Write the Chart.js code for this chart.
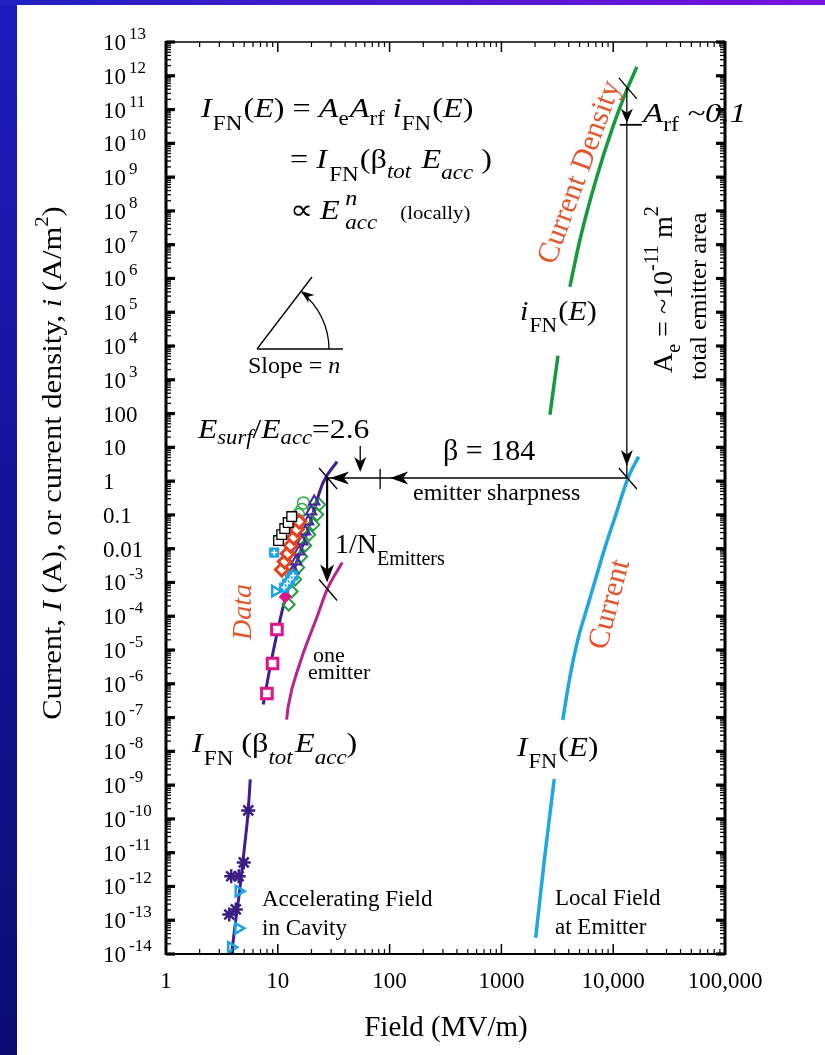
<!DOCTYPE html>
<html><head><meta charset="utf-8">
<script src="https://cdn.jsdelivr.net/npm/chart.js@4.4.1/dist/chart.umd.min.js"></script>
<style>html,body{margin:0;padding:0;background:#fff;overflow:hidden}canvas{display:block}</style>
</head><body>
<canvas id="c" width="825" height="1055"></canvas>
<script>
// ---------------- DATA ----------------
const xTickValues = [1, 10, 100, 1000, 10000, 100000];
const xTickLabels = ['1', '10', '100', '1000', '10,000', '100,000'];
const yTickValues = [1e13,1e12,1e11,1e10,1e9,1e8,1e7,1e6,1e5,1e4,1e3,100,10,1,0.1,0.01,1e-3,1e-4,1e-5,1e-6,1e-7,1e-8,1e-9,1e-10,1e-11,1e-12,1e-13,1e-14];
const yTickLabels = ['10^13','10^12','10^11','10^10','10^9','10^8','10^7','10^6','10^5','10^4','10^3','100','10','1','0.1','0.01','10^-3','10^-4','10^-5','10^-6','10^-7','10^-8','10^-9','10^-10','10^-11','10^-12','10^-13','10^-14'];

// I_FN(beta_tot E_acc) fit curve (field MV/m, current A)
const fitLowE  = [3.87, 4.16, 4.57, 5.01, 5.44, 5.67];
const fitLowI  = [1.05e-14, 7.6e-14, 8.1e-13, 1.26e-11, 1.78e-10, 1.48e-9];
const fitHighE = [7.41, 8.55, 9.88, 11.17, 13.72, 18.3, 25.4, 33.9];
const fitHighI = [2.44e-7, 3.25e-6, 3.3e-5, 1.94e-4, 1.96e-3, 0.0299, 0.904, 3.78];
// one emitter
const oneE = [12.0, 12.39, 15.85, 22.5, 27.6, 37.7];
const oneI = [8.7e-8, 2.13e-7, 4.27e-6, 9.8e-5, 6.17e-4, 3.88e-3];
// current density i_FN(E)
const densLowE  = [2718, 3205];
const densLowI  = [92.7, 5160];
const densHighE = [4100, 5040, 7140, 9930, 13250, 16280];
const densHighI = [5.68e5, 1.4e7, 1.02e9, 3.08e10, 3.83e11, 1.83e12];
// current I_FN(E) at local field
const curLowE  = [2027, 2411, 2970];
const curLowI  = [3.03e-14, 5.4e-12, 1.51e-9];
const curHighE = [3540, 4060, 4840, 5750, 6850, 8430, 10370, 13700, 16900];
const curHighI = [8.5e-8, 1.34e-6, 2.11e-5, 1.5e-4, 1.06e-3, 0.0106, 0.0843, 1.33, 5.31];

// measured data
const blackSqE = [10.15, 10.83, 11.53, 12.39, 13.31];
const blackSqI = [0.0174, 0.0261, 0.0394, 0.0592, 0.0891];
const greenCircE = [15.31, 16.42, 16.98];
const greenCircI = [0.102, 0.1435, 0.2265];
const greenDiaE = [12.51, 13.31, 14.3, 15.21, 16.18, 17.57, 19.09, 20.75, 22.5, 23.44];
const greenDiaI = [2.22e-4, 5.38e-4, 1.22e-3, 2.76e-3, 5.83e-3, 0.01236, 0.0261, 0.0516, 0.102, 0.2018];
const redDiaE = [10.88, 11.53, 12.25, 13.04, 13.87, 14.75, 15.54];
const redDiaI = [2.41e-3, 4.15e-3, 7.16e-3, 0.01236, 0.0213, 0.0367, 0.0634];
const purpleTriE = [13.81, 14.59, 15.54, 16.52, 17.57, 18.7, 19.88, 21.15];
const purpleTriI = [2.25e-3, 4.15e-3, 8.2e-3, 0.0162, 0.0321, 0.0634, 0.1253, 0.247];
const cyanSqE = [9.29, 11.41, 12.13, 12.91, 13.72];
const cyanSqI = [7.67e-3, 7.06e-4, 9.27e-4, 1.22e-3, 1.6e-3];
const cyanTriE = [9.48, 4.47, 4.43, 3.83];
const cyanTriI = [5.5e-4, 7.24e-13, 5.75e-14, 1.58e-14];
const magDiaE = [11.65];
const magDiaI = [3.75e-4];
const magSqE = [9.82, 8.97, 7.99];
const magSqI = [4.05e-5, 3.99e-6, 5.16e-7];
const starE = [5.44, 4.96, 4.47, 3.83, 4.21, 3.68];
const starI = [1.78e-10, 5.13e-12, 2.0e-12, 2.0e-12, 2.09e-13, 1.48e-13];

// annotation anchors (data space)
const betaLevel = 1.24;            // current level of beta arrow
const accCrossE = 27.6;            // E_acc at crossing
const locCrossE = 13240;           // local field at crossing
const densCrossI = 4.4e11;         // current density at crossing
const oneCrossI = 6.2e-4;          // one-emitter crossing
const surfTickE = 82.3;            // E_surf marker
const surfArrowE = 54.6;

// ---------------- HELPERS ----------------
const FONT = '"Liberation Serif","Times New Roman",serif';
const ORANGE = '#e4552c';
function fnt(s, it){ return (it ? 'italic ' : '') + s + 'px ' + FONT; }
function pts(xs, ys){ return xs.map((x, i) => ({x: x, y: ys[i]})); }
function rich(ctx, x, y, segs, o){
  o = o || {};
  ctx.save(); ctx.translate(x, y); if (o.rot) ctx.rotate(o.rot); if (o.sx) ctx.scale(o.sx, 1);
  ctx.fillStyle = o.color || '#000'; ctx.textBaseline = 'alphabetic'; ctx.textAlign = 'left';
  const base = o.size || 28; const ws = []; let total = 0;
  segs.forEach(sg => { ctx.font = fnt(sg.s || base, sg.i); const w = ctx.measureText(sg.t).width; ws.push(w); total += (sg.dx || 0) + (sg.nox ? 0 : w); });
  let cx = o.align === 'center' ? -total / 2 : (o.align === 'right' ? -total : 0);
  segs.forEach((sg, k) => { cx += sg.dx || 0; ctx.font = fnt(sg.s || base, sg.i); ctx.fillText(sg.t, cx, (sg.dy || 0) + (o.dy || 0)); if (!sg.nox) cx += ws[k]; });
  ctx.restore();
}
function head(ctx, tx, ty, ang, len, hw){
  const c = Math.cos(ang), s = Math.sin(ang);
  ctx.beginPath(); ctx.moveTo(tx, ty);
  ctx.lineTo(tx - len * c - hw * s, ty - len * s + hw * c);
  ctx.lineTo(tx - 0.72 * len * c, ty - 0.72 * len * s);
  ctx.lineTo(tx - len * c + hw * s, ty - len * s - hw * c);
  ctx.closePath(); ctx.fill();
}
function seg(ctx, x1, y1, x2, y2, w){ ctx.lineWidth = w; ctx.beginPath(); ctx.moveTo(x1, y1); ctx.lineTo(x2, y2); ctx.stroke(); }

// ---------------- PLUGINS ----------------
const bgPlugin = { id: 'bg', beforeDraw(c){
  const ctx = c.ctx; ctx.save();
  const g = ctx.createLinearGradient(0, 0, 0, 1055); g.addColorStop(0, '#1c1cbc'); g.addColorStop(1, '#0b0b72');
  ctx.fillStyle = g; ctx.fillRect(0, 0, 17, 1055);
  const g2 = ctx.createLinearGradient(0, 0, 825, 0); g2.addColorStop(0, '#2020c2'); g2.addColorStop(1, '#7812dc');
  ctx.fillStyle = g2; ctx.fillRect(0, 0, 825, 5);
  ctx.fillStyle = '#fff'; ctx.fillRect(17, 5, 808, 1050);
  ctx.restore(); } };

function drawAxes(c){
  const ctx = c.ctx, a = c.chartArea, xs = c.scales.x, ys = c.scales.y;
  ctx.save(); ctx.strokeStyle = '#000'; ctx.fillStyle = '#000'; ctx.lineCap = 'butt';
  seg(ctx, a.left, a.top, a.right, a.top, 1.5);
  seg(ctx, a.left, a.bottom, a.right, a.bottom, 2);
  seg(ctx, a.left, a.top - 1, a.left, a.bottom + 1, 3);
  seg(ctx, a.right, a.top - 1, a.right, a.bottom + 1, 3);
  for (let k = 0; k < 5; k++) for (let m = 1; m < 10; m++) {
    const v = m * Math.pow(10, k); const px = xs.getPixelForValue(v);
    if (m === 1) { if (k === 0) continue; seg(ctx, px, a.top, px, a.top + 10, 1.5); seg(ctx, px, a.bottom, px, a.bottom - 10, 1.5); }
    else { seg(ctx, px, a.top, px, a.top + 5, 1.2); seg(ctx, px, a.bottom, px, a.bottom - 5, 1.2); }
  }
  for (let k = -14; k < 13; k++) for (let m = 1; m < 10; m++) {
    const v = m * Math.pow(10, k); const py = ys.getPixelForValue(v);
    if (m === 1) { seg(ctx, a.left, py, a.left + 9, py, 3.2); seg(ctx, a.right, py, a.right - 9, py, 3.2); }
    else { seg(ctx, a.left, py, a.left + 5, py, 1.3); seg(ctx, a.right, py, a.right - 5, py, 1.3); }
  }
  { const py = ys.getPixelForValue(1e13); seg(ctx, a.left, py, a.left + 9, py, 3.2); seg(ctx, a.right, py, a.right - 9, py, 3.2); }
  ctx.font = fnt(23); ctx.textAlign = 'center'; ctx.textBaseline = 'alphabetic';
  xTickValues.forEach((v, i) => ctx.fillText(xTickLabels[i], xs.getPixelForValue(v), 988));
  yTickValues.forEach((v, i) => {
    const py = ys.getPixelForValue(v); const lab = yTickLabels[i];
    if (lab.indexOf('^') >= 0) { const p = lab.split('^'); rich(ctx, 103, py + 8, [{t: p[0], s: 23}, {t: p[1], s: 17, dy: -11, dx: 3}]); }
    else rich(ctx, 103, py + 8, [{t: lab, s: 23}]);
  });
  rich(ctx, 446, 1036, [{t: 'Field (MV/m)'}], {size: 29, align: 'center'});
  rich(ctx, 61, 463, [{t: 'Current, '}, {t: 'I', i: 1}, {t: ' (A), or current density, '}, {t: 'i', i: 1}, {t: ' (A/m'}, {t: '2', s: 19, dy: -13}, {t: ')'}], {size: 28, sx: 1.09, align: 'center', rot: -Math.PI / 2});
  ctx.restore();
}

const annPlugin = { id: 'ann', afterDatasetsDraw(c){
  drawAxes(c);
  const ctx = c.ctx, xs = c.scales.x, ys = c.scales.y;
  const X = v => xs.getPixelForValue(v), Y = v => ys.getPixelForValue(v);
  ctx.save(); ctx.strokeStyle = '#000'; ctx.fillStyle = '#000';
  const F = 1.15;
  // equations
  rich(ctx, 201, 117, [{t: 'I', i: 1}, {t: 'FN', s: 20, dy: 13, dx: 1}, {t: '(', dx: 1}, {t: 'E', i: 1}, {t: ')'}, {t: ' = '}, {t: 'A', i: 1}, {t: 'e', s: 20, dy: 8}, {t: 'A', i: 1, dx: 1}, {t: 'rf', s: 20, dy: 8}, {t: ' '}, {t: 'i', i: 1}, {t: 'FN', s: 20, dy: 13}, {t: '(', dx: 1}, {t: 'E', i: 1}, {t: ')'}], {size: 28, sx: F});
  rich(ctx, 290, 168, [{t: '= '}, {t: 'I', i: 1}, {t: 'FN', s: 20, dy: 13, dx: 2}, {t: '(β', dx: 1}, {t: 'tot', s: 20, i: 1, dy: 10}, {t: ' E', i: 1, dx: 2}, {t: 'acc', s: 20, i: 1, dy: 11}, {t: ' )'}], {size: 28, sx: F});
  rich(ctx, 290, 219, [{t: '∝'}, {t: 'E', i: 1, dx: 6}, {t: 'n', s: 21, i: 1, dy: -14, dx: 5, nox: 1}, {t: 'acc', s: 20, i: 1, dy: 10}, {t: '(locally)', s: 18, dx: 20}], {size: 28, sx: F});
  // slope triangle
  ctx.lineWidth = 1.3;
  seg(ctx, 257, 349, 343, 349, 1.3);
  seg(ctx, 257, 349, 312, 277, 1.3);
  ctx.beginPath(); ctx.arc(257, 349, 72, 0, -0.90, true); ctx.stroke();
  head(ctx, 301, 291, -2.49, 13, 5);
  rich(ctx, 248, 373, [{t: 'Slope = '}, {t: 'n', i: 1}], {size: 24});
  // E_surf / E_acc
  rich(ctx, 198, 438, [{t: 'E', i: 1}, {t: 'surf', s: 20, i: 1, dy: 6}, {t: '/'}, {t: 'E', i: 1}, {t: 'acc', s: 20, i: 1, dy: 6}, {t: '=2.6'}], {size: 28, sx: 1.13});
  const xs26 = X(surfArrowE);
  seg(ctx, xs26, 446, xs26, 462, 1.3); head(ctx, xs26, 472, Math.PI / 2, 15, 6);
  // beta line
  const yb = Y(betaLevel), xa = X(accCrossE), xl = X(locCrossE), xt = X(surfTickE);
  seg(ctx, xa, yb, xl, yb, 1.5);
  head(ctx, xa + 3, yb, Math.PI, 19, 6.5);
  seg(ctx, xt, yb - 9, xt, yb + 11, 1.3);
  head(ctx, xt + 10, yb, Math.PI, 18, 6.5);
  rich(ctx, 443, 460, [{t: 'β = 184'}], {size: 30});
  rich(ctx, 413, 500, [{t: 'emitter sharpness'}], {size: 24});
  // crossing marks
  const cross = (cx, cy) => seg(ctx, cx - 8, cy - 10, cx + 10, cy + 11, 1.3);
  cross(xa, yb); cross(xl, yb); cross(xl, Y(densCrossI)); cross(xa, Y(oneCrossI));
  // 1/N arrow
  const yo = Y(oneCrossI);
  seg(ctx, xa, yb, xa, yo - 12, 2.2); head(ctx, xa, yo - 7, Math.PI / 2, 18, 7);
  rich(ctx, 335, 553, [{t: '1/N'}, {t: 'Emitters', s: 20, dy: 12}], {size: 28});
  rich(ctx, 313, 662, [{t: 'one'}], {size: 22});
  rich(ctx, 308, 679, [{t: 'emitter'}], {size: 22});
  // A_rf and A_e arrow
  const yd = Y(densCrossI);
  seg(ctx, xl, yd, xl, yb, 1.3);
  head(ctx, xl, yd + 35, Math.PI / 2, 14, 6);
  seg(ctx, xl - 7, yd + 37, xl + 15, yd + 37, 1.8);
  head(ctx, xl, yb - 12, Math.PI / 2, 16, 6);
  rich(ctx, 643, 122, [{t: 'A', i: 1}, {t: 'rf', s: 20, dy: 9}, {t: ' ~0.1', i: 1}], {size: 28, sx: 1.18});
  rich(ctx, 672, 373, [{t: 'A'}, {t: 'e', s: 20, dy: 8}, {t: ' = ~10'}, {t: '-11', s: 20, dy: -14}, {t: ' m'}, {t: '2', s: 20, dy: -14}], {size: 28, rot: -Math.PI / 2});
  rich(ctx, 706, 380, [{t: 'total emitter area'}], {size: 24, sx: 1.03, rot: -Math.PI / 2});
  // curve labels
  rich(ctx, 520, 320, [{t: 'i', i: 1}, {t: 'FN', s: 20, dy: 12, dx: 1}, {t: '(', dx: 1}, {t: 'E', i: 1}, {t: ')'}], {size: 28, sx: 1.08});
  rich(ctx, 517, 756, [{t: 'I', i: 1}, {t: 'FN', s: 20, dy: 12, dx: 1}, {t: '(', dx: 1}, {t: 'E', i: 1}, {t: ')'}], {size: 28, sx: 1.12});
  rich(ctx, 192, 752, [{t: 'I', i: 1}, {t: 'FN', s: 20, dy: 13, dx: 1}, {t: ' (β'}, {t: 'tot', s: 20, i: 1, dy: 12}, {t: 'E', i: 1, dx: 2}, {t: 'acc', s: 20, i: 1, dy: 12}, {t: ')'}], {size: 28, sx: 1.15});
  rich(ctx, 262, 906, [{t: 'Accelerating Field'}], {size: 23});
  rich(ctx, 262, 935, [{t: 'in Cavity'}], {size: 23});
  rich(ctx, 555, 905, [{t: 'Local Field'}], {size: 23});
  rich(ctx, 555, 934, [{t: 'at Emitter'}], {size: 23});
  // orange labels
  rich(ctx, 251, 640, [{t: 'Data', i: 1}], {size: 28, color: ORANGE, rot: -Math.PI / 2});
  rich(ctx, 578, 172, [{t: 'Current Density'}], {size: 30, color: ORANGE, rot: -70 * Math.PI / 180, align: 'center', dy: 10});
  rich(ctx, 608, 604, [{t: 'Current'}], {size: 30, color: ORANGE, rot: -75.4 * Math.PI / 180, align: 'center', dy: 10});
  ctx.restore();
} };

// ---------------- CHART ----------------
function lineDs(xs, ys, color, w){ return {data: pts(xs, ys), showLine: true, borderColor: color, borderWidth: w || 3, pointRadius: 0, fill: false, cubicInterpolationMode: 'monotone', order: 10}; }
function markDs(xs, ys, style, color, r, bw, bg, rot){ return {data: pts(xs, ys), showLine: false, pointStyle: style, pointRadius: r, pointBorderColor: color, pointBackgroundColor: bg || 'rgba(0,0,0,0)', pointBorderWidth: bw, pointRotation: rot || 0, clip: false, order: 1}; }

const datasets = [
  markDs(cyanSqE, cyanSqI, 'cross', '#ffffff', 3, 1.5),
  markDs(cyanSqE, cyanSqI, 'rect', '#1aa3e6', 6.5, 1, '#1aa3e6'),
  markDs(magDiaE, magDiaI, 'rectRot', '#e0138c', 6, 1, '#e0138c'),
  markDs(blackSqE, blackSqI, 'rect', '#000000', 6.8, 1.3, '#ffffff'),
  markDs(redDiaE, redDiaI, 'rectRot', '#e2431e', 6.5, 3, '#ffffff'),
  markDs(purpleTriE, purpleTriI, 'triangle', '#4a26a6', 6, 2),
  markDs(greenDiaE, greenDiaI, 'rectRot', '#22a03c', 6, 2),
  markDs(greenCircE, greenCircI, 'circle', '#2fae48', 6, 1.5),
  markDs(cyanTriE, cyanTriI, 'triangle', '#1aa3e6', 6, 2.5, 'rgba(0,0,0,0)', 90),
  markDs(magSqE, magSqI, 'rect', '#e0138c', 7.5, 3, '#ffffff'),
  markDs(starE, starI, 'star', '#3a1d84', 7, 2.5),
  lineDs(fitLowE, fitLowI, '#3d1e96', 3),
  lineDs(fitHighE, fitHighI, '#3d1e96', 3),
  lineDs(oneE, oneI, '#b8238e', 3),
  lineDs(densLowE, densLowI, '#169a3c', 3.5),
  lineDs(densHighE, densHighI, '#169a3c', 3.5),
  lineDs(curLowE, curLowI, '#1ea7e1', 3.5),
  lineDs(curHighE, curHighI, '#1ea7e1', 3.5)
];

new Chart(document.getElementById('c'), {
  type: 'scatter',
  data: {datasets: datasets},
  options: {
    responsive: false, animation: false, events: [],
    layout: {padding: {left: 166, right: 100, top: 42, bottom: 101}},
    plugins: {legend: {display: false}, tooltip: {enabled: false}},
    scales: {
      x: {type: 'logarithmic', min: 1, max: 1e5, display: false},
      y: {type: 'logarithmic', min: 1e-14, max: 1e13, display: false}
    }
  },
  plugins: [bgPlugin, annPlugin]
});
</script>
</body></html>
